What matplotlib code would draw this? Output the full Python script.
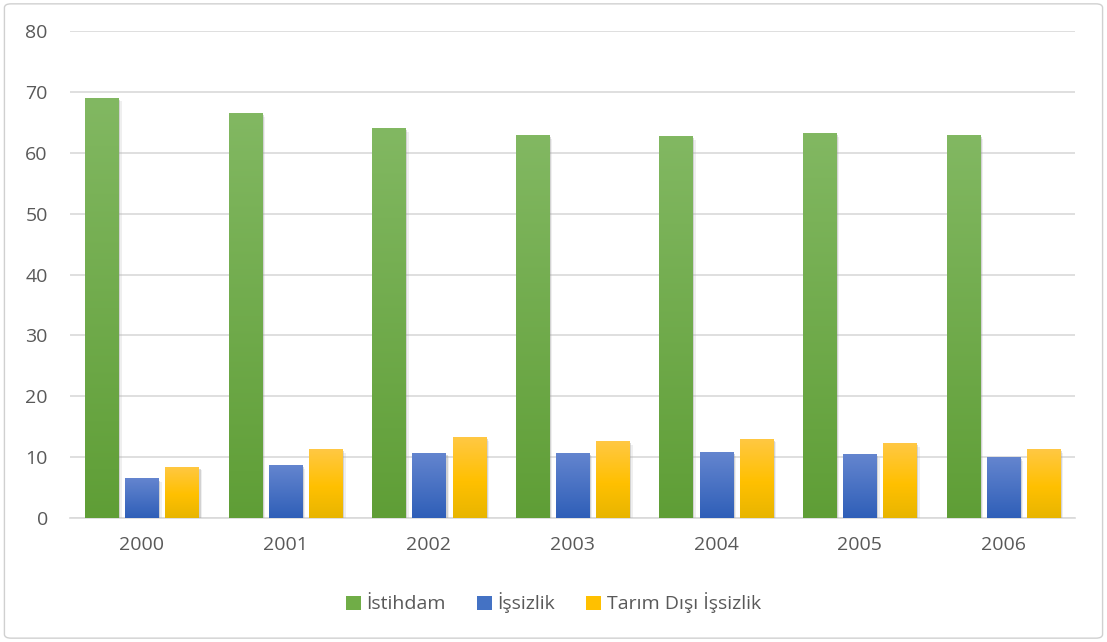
import numpy as np
import matplotlib
matplotlib.use("Agg")
import matplotlib.pyplot as plt
from matplotlib.colors import LinearSegmentedColormap
from matplotlib.patches import FancyBboxPatch
import matplotlib.patheffects as pe

years = ["2000", "2001", "2002", "2003", "2004", "2005", "2006"]
istihdam = [69.0, 66.5, 64.0, 62.9, 62.7, 63.2, 62.9]
issizlik = [6.5, 8.7, 10.7, 10.7, 10.8, 10.5, 10.0]
tarim_disi = [8.4, 11.3, 13.3, 12.6, 13.0, 12.3, 11.3]
series_names = ["İstihdam", "İşsizlik", "Tarım Dışı İşsizlik"]
yticks = [0, 10, 20, 30, 40, 50, 60, 70, 80]

plt.rcParams['font.family'] = ['Open Sans', 'DejaVu Sans']

fig = plt.figure(figsize=(11.07, 6.42), dpi=100)
ax = fig.add_axes([70/1107, 1-518/642, (1075-70)/1107, (518-31)/642])

# outer border
border = FancyBboxPatch((0.004, 0.006), 0.992, 0.988, boxstyle="round,pad=0,rounding_size=0.006",
                        transform=fig.transFigure, fill=False, edgecolor="#d0d0d0", linewidth=1.0)
fig.patches.append(border)

x = np.arange(len(years))
w = 0.23
step = 0.28
grads = [
    ("#82b862", "#5f9e36", "#70AD47"),
    ("#6485cf", "#2f5fb8", "#4472C4"),
    ("#ffc844", "#e8b500", "#FFC000"),
]
shadow = [pe.SimplePatchShadow(offset=(1.5, -1.5), shadow_rgbFace="#8a8a8a", alpha=0.3),
          pe.SimplePatchShadow(offset=(2.5, -2.5), shadow_rgbFace="#b0b0b0", alpha=0.2),
          pe.Normal()]

for i, (vals, name) in enumerate(zip([istihdam, issizlik, tarim_disi], series_names)):
    top, bot, base = grads[i]
    if i == 2:
        cmap = LinearSegmentedColormap.from_list("g", [(0, bot), (0.45, "#ffc000"), (1, top)])
    else:
        cmap = LinearSegmentedColormap.from_list("g", [bot, top])
    bars = ax.bar(x + (i - 1) * step, vals, width=w, color=base, label=name, zorder=3,
                  linewidth=0)
    for b in bars:
        b.set_path_effects(shadow)
        x0, y0 = b.get_x(), b.get_y()
        h = b.get_height()
        grad = np.linspace(0, 1, 256).reshape(-1, 1)
        im = ax.imshow(grad, cmap=cmap, origin="lower", aspect="auto",
                       extent=[x0, x0 + b.get_width(), y0, y0 + h], zorder=4)
        im.set_clip_path(b)

ax.set_xlim(-0.5, len(years) - 0.5)
ax.set_ylim(0, 80)
ax.set_yticks(yticks)
ax.set_xticks(x)
ax.set_xticklabels(years)
ax.grid(axis="y", color="#d9d9d9", linewidth=1.2, zorder=0)
ax.set_axisbelow(True)
for s in ["top", "right", "left"]:
    ax.spines[s].set_visible(False)
ax.spines["bottom"].set_color("#d9d9d9")
ax.spines["bottom"].set_linewidth(1.2)
ax.tick_params(axis="both", length=0, labelsize=14, labelcolor="#595959")
ax.tick_params(axis="y", pad=16)
ax.tick_params(axis="x", pad=13)

leg = fig.legend(loc="center", bbox_to_anchor=(0.5, 1 - 603/642), ncol=3, frameon=False,
                 fontsize=14, handlelength=0.75, handleheight=0.75, handletextpad=0.3,
                 columnspacing=1.6)
for t in leg.get_texts():
    t.set_color("#595959")
for h in leg.legend_handles:
    h.set_path_effects([])

fig.savefig("out.png", dpi=100)
